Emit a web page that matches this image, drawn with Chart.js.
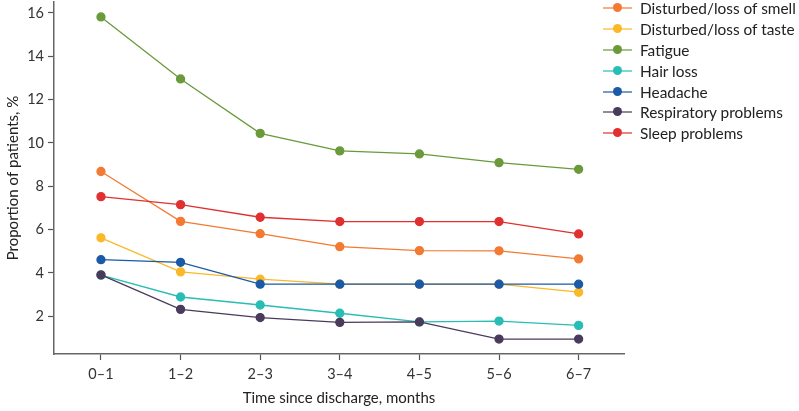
<!DOCTYPE html>
<html><head><meta charset="utf-8">
<script src="https://cdn.jsdelivr.net/npm/chart.js@4/dist/chart.umd.min.js"></script>
<style>
html,body{margin:0;padding:0;background:#fff;}
#wrap{position:relative;width:799px;height:411px;}
#legend{position:absolute;left:603px;top:-2px;font-family:"Lato",sans-serif;font-size:15.4px;color:#222;}
.li{height:20.8px;display:flex;align-items:center;white-space:nowrap;}
.sw{position:relative;width:29px;height:10px;margin-right:8px;}
.sw .ln{position:absolute;left:0;right:0;top:4px;height:2px;opacity:0.6;}
.sw .dt{position:absolute;left:10px;top:0;width:9px;height:9px;border-radius:50%;}
</style></head>
<body><div id="wrap"><canvas id="c" width="799" height="411"></canvas><div id="legend"></div></div>
<script>
const categories = ["0\u20131","1\u20132","2\u20133","3\u20134","4\u20135","5\u20136","6\u20137"];
const yTickValues = [2,4,6,8,10,12,14,16];
const seriesNames = ["Disturbed/loss of smell","Disturbed/loss of taste","Fatigue","Hair loss","Headache","Respiratory problems","Sleep problems"];
const smell = [8.68, 6.38, 5.81, 5.21, 5.03, 5.02, 4.65];
const taste = [5.62, 4.05, 3.71, 3.48, 3.48, 3.48, 3.11];
const fatigue = [15.81, 12.95, 10.44, 9.63, 9.49, 9.09, 8.78];
const hairLoss = [3.90, 2.89, 2.52, 2.14, 1.74, 1.78, 1.58];
const headache = [4.61, 4.49, 3.48, 3.48, 3.48, 3.48, 3.48];
const respiratory = [3.91, 2.32, 1.94, 1.72, 1.74, 0.95, 0.95];
const sleep = [7.52, 7.15, 6.57, 6.37, 6.37, 6.37, 5.80];
const colors = ["#F37A32","#FBB829","#6A9A3A","#28BDB5","#1A5AA6","#4A3B5C","#E03030"];
const seriesValues = [smell, taste, fatigue, hairLoss, headache, respiratory, sleep];

const FONT = "Lato";
const datasets = seriesNames.map((n,i)=>({
  label:n,
  data: seriesValues[i].map((v,j)=>({x:j,y:v})),
  borderColor:colors[i], backgroundColor:colors[i],
  pointBackgroundColor:colors[i], pointBorderColor:colors[i],
  borderWidth:1.3, pointRadius:4, pointHoverRadius:4, tension:0, clip:false,
  order: seriesNames.length - i
}));
const chart = new Chart(document.getElementById('c'), {
  type:'line',
  data:{datasets},
  options:{
    responsive:false, animation:false,
    layout:{autoPadding:false,padding:{top:2,right:175,left:0,bottom:0}},
    plugins:{legend:{display:false},tooltip:{enabled:false}},
    scales:{
      x:{type:'linear',min:-0.59,max:6.57,
        afterBuildTicks:s=>{s.ticks=categories.map((c,i)=>({value:i}));},
        afterFit:s=>{s.height=57;s.paddingRight=0;s.paddingLeft=0;},
        ticks:{callback:(v)=>categories[v],color:'#333',font:{family:FONT,size:14.5},padding:6,maxRotation:0,autoSkip:false},
        grid:{display:true,drawOnChartArea:false,tickLength:6,color:'#555',tickWidth:1.2},
        border:{display:true,color:'#666',width:1.5},
        title:{display:true,text:'Time since discharge, months',color:'#222',font:{family:FONT,size:15},padding:{top:2}}
      },
      y:{min:0.26,max:16.5,
        afterBuildTicks:s=>{s.ticks=yTickValues.map(v=>({value:v}));},
        afterFit:s=>{s.width=54;s.paddingTop=0;s.paddingBottom=0;},
        ticks:{color:'#333',font:{family:FONT,size:14.5},padding:4},
        grid:{display:true,drawOnChartArea:false,tickLength:6,color:'#555',tickWidth:1.2},
        border:{display:true,color:'#666',width:1.5},
        title:{display:true,text:'Proportion of patients, %',color:'#222',font:{family:FONT,size:15},padding:{bottom:2}}
      }
    }
  }
});
const lg=document.getElementById('legend');
seriesNames.forEach((n,i)=>{
  const row=document.createElement('div');row.className='li';
  const sw=document.createElement('span');sw.className='sw';
  const ln=document.createElement('span');ln.className='ln';ln.style.background=colors[i];
  const dt=document.createElement('span');dt.className='dt';dt.style.background=colors[i];
  sw.appendChild(ln);sw.appendChild(dt);
  const t=document.createElement('span');t.textContent=n;
  row.appendChild(sw);row.appendChild(t);lg.appendChild(row);
});
</script></body></html>
